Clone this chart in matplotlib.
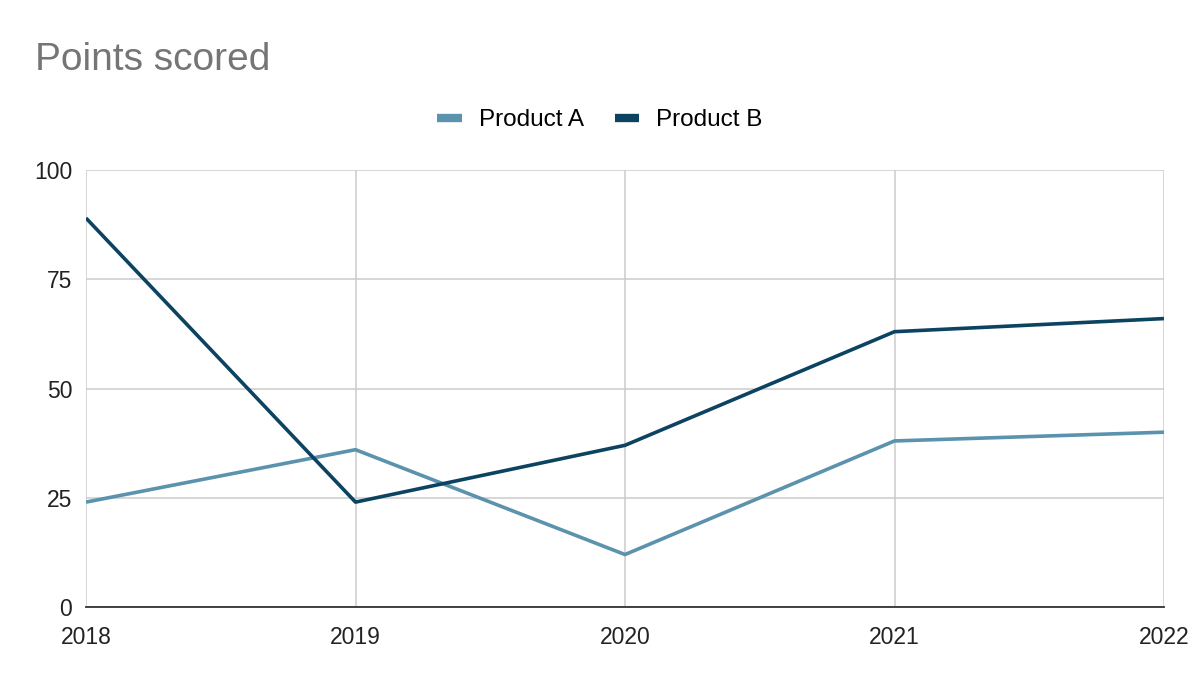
import matplotlib
matplotlib.use("Agg")
import matplotlib.pyplot as plt
from matplotlib.lines import Line2D

years = [2018, 2019, 2020, 2021, 2022]
product_a = [24, 36, 12, 38, 40]
product_b = [89, 24, 37, 63, 66]
series_names = ["Product A", "Product B"]
colors = ["#5b92ae", "#0b4361"]
yticks = [0, 25, 50, 75, 100]

plt.rcParams['font.family'] = ['Liberation Sans', 'DejaVu Sans']

fig = plt.figure(figsize=(12, 6.82), dpi=100)
ax = fig.add_axes([86/1200, 1-607/682, (1164-86)/1200, (607-170)/682])

ax.plot(years, product_a, color=colors[0], lw=2.6, solid_capstyle='butt', zorder=3)
ax.plot(years, product_b, color=colors[1], lw=2.6, solid_capstyle='butt', zorder=4)

ax.set_xlim(2018, 2022)
ax.set_ylim(0, 100)
ax.set_xticks(years)
ax.set_yticks(yticks)
ax.grid(True, color="#cccccc", lw=1.1)
ax.set_axisbelow(True)
for s in ['top', 'right', 'left']:
    ax.spines[s].set_visible(False)
ax.spines['bottom'].set_color('#333333')
ax.spines['bottom'].set_linewidth(1.3)
ax.spines['bottom'].set_zorder(5)
ax.tick_params(length=0, labelsize=16.5, colors='#222222')
ax.tick_params(axis='x', pad=14)
ax.tick_params(axis='y', pad=10)

fig.text(35/1200, 1-60/682, "Points scored", fontsize=28, color="#757575", va='center', ha='left')

handles = [Line2D([0], [0], color=c, lw=6, solid_capstyle='butt') for c in colors]
fig.legend(handles, series_names, loc='center', bbox_to_anchor=(600/1200, 1-120/682),
           ncol=2, frameon=False, fontsize=17.5, handlelength=1.0, handletextpad=0.7,
           columnspacing=1.3)

fig.savefig("out.png", dpi=100)
